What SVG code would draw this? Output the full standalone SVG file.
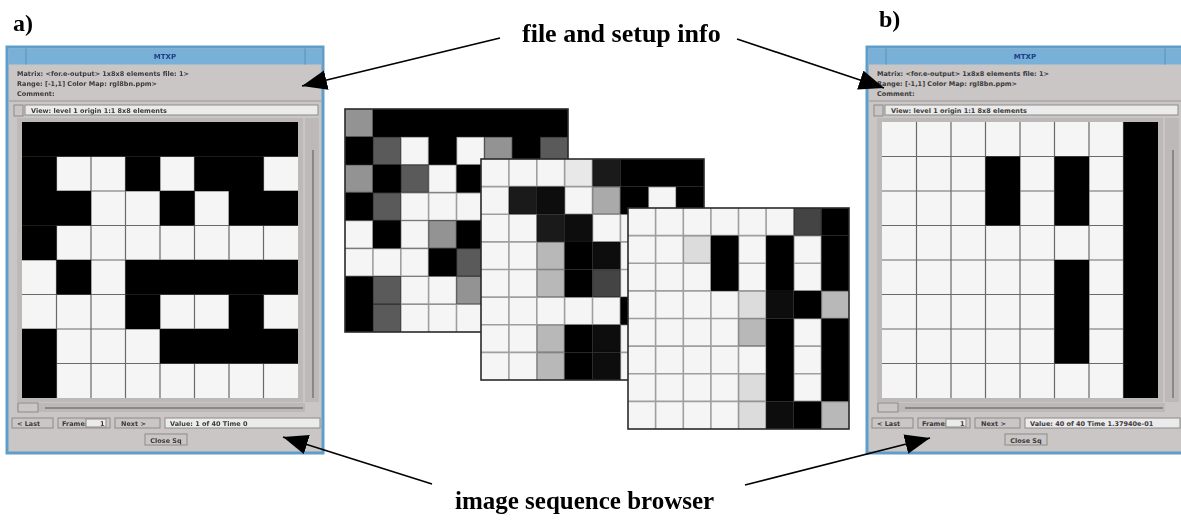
<svg xmlns="http://www.w3.org/2000/svg" width="1181" height="520" viewBox="0 0 1181 520">
<style>
.lbl{font-family:"Liberation Serif","Times New Roman",serif;font-weight:bold;fill:#000}
.frame{fill:#cbc6c6;stroke:#5f9dcb;stroke-width:3}
.title{fill:#78b0d8}
.tsep{stroke:#5a8fb8;stroke-width:1}
.wt{font-family:"DejaVu Sans",sans-serif;font-size:6.5px;font-weight:bold;fill:#3a3a3a}
.tt{font-family:"DejaVu Sans",sans-serif;font-size:7px;font-weight:bold;fill:#1d3f86}
.box{fill:#ecebeb;stroke:#8d8a8a;stroke-width:1}
.btn{fill:#cbc6c6;stroke:#8d8a8a;stroke-width:1}
.trough{fill:#bdb9b9}
.sl{stroke:#7a7777;stroke-width:1.5}
.wg{stroke:#6e6e6e;stroke-width:1.2;fill:none;mix-blend-mode:multiply}
.ig{stroke:#a6a6a6;stroke-width:1.6;fill:none;mix-blend-mode:multiply}
.bd{fill:none;stroke:#2a2a2a;stroke-width:1.6}
.W{fill:#f5f5f5}.B{fill:#000}.D1{fill:#1a1a1a}.D0{fill:#0d0d0d}.DG{fill:#5a5a5a}.G{fill:#939393}.LG{fill:#b8b8b8}.LA{fill:#aaaaaa}.VL{fill:#dcdcdc}.E{fill:#e8e8e8}.G4{fill:#444}
.conn{stroke:#000;stroke-width:1.6;fill:none}
</style>
<defs>
<marker id="ah" markerUnits="userSpaceOnUse" viewBox="0 0 25 20" refX="25" refY="10" markerWidth="25" markerHeight="20" orient="auto">
<path d="M0,0 L25,10 L0,20 Z" fill="#000"/>
</marker>
</defs>

<!-- Window a -->
<g id="window-a">
<rect class="frame" x="7" y="47" width="316" height="406"/>
<rect class="title" x="8.5" y="48.5" width="313" height="16"/>
<line class="tsep" x1="26" y1="48.5" x2="26" y2="64.5"/>
<line class="tsep" x1="305" y1="48.5" x2="305" y2="64.5"/>
<text class="tt" x="165" y="59" text-anchor="middle">MTXP</text>
<text class="wt" x="17" y="76">Matrix: &lt;for.e-output&gt; 1x8x8 elements file: 1&gt;</text>
<text class="wt" x="17" y="86">Range: [-1,1] Color Map: rgl8bn.ppm&gt;</text>
<text class="wt" x="17" y="96">Comment:</text>
<line x1="9" y1="101" x2="321" y2="101" stroke="#9a9696" stroke-width="1"/>
<rect class="btn" x="14" y="105" width="9" height="11"/>
<rect class="box" x="25" y="105" width="293" height="10"/>
<text class="wt" x="31" y="113">View: level 1 origin 1:1 8x8 elements</text>
<rect class="trough" x="17" y="118" width="286" height="284"/>
<rect class="trough" x="305" y="118" width="14" height="284"/>
<line class="sl" x1="313" y1="150" x2="313" y2="398"/>
<rect class="trough" x="17" y="403" width="288" height="9"/>
<line class="sl" x1="45" y1="408" x2="303" y2="408"/>
<rect class="btn" x="18" y="403" width="20" height="9"/>
<rect class="btn" x="12" y="418" width="41" height="10"/>
<text class="wt" x="17" y="426">&lt; Last</text>
<rect class="btn" x="58" y="418" width="52" height="10"/>
<text class="wt" x="62" y="426">Frame:</text>
<rect class="box" x="86" y="419" width="20" height="8"/>
<text class="wt" x="100" y="426">1</text>
<rect class="btn" x="115" y="418" width="45" height="10"/>
<text class="wt" x="121" y="426">Next &gt;</text>
<rect class="box" x="165" y="418" width="155" height="10"/>
<text class="wt" x="170" y="426">Value:  1 of 40 Time 0</text>
<rect class="btn" x="145" y="434" width="42" height="11"/>
<text class="wt" x="166" y="442.5" text-anchor="middle">Close Sq</text>
<rect class="W" x="22" y="122" width="276" height="276"/>
<g>
<rect class="B" x="22" y="122" width="276" height="34.5"/>
<rect class="B" x="22" y="156.5" width="34.5" height="34.5"/>
<rect class="B" x="125.5" y="156.5" width="34.5" height="34.5"/>
<rect class="B" x="194.5" y="156.5" width="69" height="34.5"/>
<rect class="B" x="22" y="191" width="69" height="34.5"/>
<rect class="B" x="160" y="191" width="34.5" height="34.5"/>
<rect class="B" x="229" y="191" width="69" height="34.5"/>
<rect class="B" x="22" y="225.5" width="34.5" height="34.5"/>
<rect class="B" x="56.5" y="260" width="34.5" height="34.5"/>
<rect class="B" x="125.5" y="260" width="172.5" height="34.5"/>
<rect class="B" x="125.5" y="294.5" width="34.5" height="34.5"/>
<rect class="B" x="229" y="294.5" width="34.5" height="34.5"/>
<rect class="B" x="22" y="329" width="34.5" height="69"/>
<rect class="B" x="160" y="329" width="138" height="34.5"/>
</g>
<path class="wg" d="M56.5,122V398M91,122V398M125.5,122V398M160,122V398M194.5,122V398M229,122V398M263.5,122V398M22,156.5H298M22,191H298M22,225.5H298M22,260H298M22,294.5H298M22,329H298M22,363.5H298"/>
</g>

<!-- Window b -->
<g id="window-b">
<rect class="frame" x="867" y="47" width="316" height="406"/>
<rect class="title" x="868.5" y="48.5" width="313" height="16"/>
<line class="tsep" x1="886" y1="48.5" x2="886" y2="64.5"/>
<line class="tsep" x1="1165" y1="48.5" x2="1165" y2="64.5"/>
<text class="tt" x="1025" y="59" text-anchor="middle">MTXP</text>
<text class="wt" x="877" y="76">Matrix: &lt;for.e-output&gt; 1x8x8 elements file: 1&gt;</text>
<text class="wt" x="877" y="86">Range: [-1,1] Color Map: rgl8bn.ppm&gt;</text>
<text class="wt" x="877" y="96">Comment:</text>
<line x1="869" y1="101" x2="1181" y2="101" stroke="#9a9696" stroke-width="1"/>
<rect class="btn" x="874" y="105" width="9" height="11"/>
<rect class="box" x="885" y="105" width="293" height="10"/>
<text class="wt" x="891" y="113">View: level 1 origin 1:1 8x8 elements</text>
<rect class="trough" x="877" y="118" width="286" height="284"/>
<rect class="trough" x="1165" y="118" width="14" height="284"/>
<line class="sl" x1="1173" y1="150" x2="1173" y2="398"/>
<rect class="trough" x="877" y="403" width="288" height="9"/>
<line class="sl" x1="905" y1="408" x2="1163" y2="408"/>
<rect class="btn" x="878" y="403" width="20" height="9"/>
<rect class="btn" x="872" y="418" width="41" height="10"/>
<text class="wt" x="877" y="426">&lt; Last</text>
<rect class="btn" x="918" y="418" width="52" height="10"/>
<text class="wt" x="922" y="426">Frame:</text>
<rect class="box" x="946" y="419" width="20" height="8"/>
<text class="wt" x="960" y="426">1</text>
<rect class="btn" x="975" y="418" width="45" height="10"/>
<text class="wt" x="981" y="426">Next &gt;</text>
<rect class="box" x="1025" y="418" width="155" height="10"/>
<text class="wt" x="1030" y="426">Value: 40 of 40 Time 1.37940e-01</text>
<rect class="btn" x="1005" y="434" width="42" height="11"/>
<text class="wt" x="1026" y="442.5" text-anchor="middle">Close Sq</text>
<rect class="W" x="882" y="122" width="276" height="276"/>
<g>
<rect class="B" x="1123.5" y="122" width="34.5" height="276"/>
<rect class="B" x="985.5" y="156.5" width="34.5" height="69"/>
<rect class="B" x="1054.5" y="156.5" width="34.5" height="69"/>
<rect class="B" x="1054.5" y="260" width="34.5" height="103.5"/>
</g>
<path class="wg" d="M916.5,122V398M951,122V398M985.5,122V398M1020,122V398M1054.5,122V398M1089,122V398M1123.5,122V398M882,156.5H1158M882,191H1158M882,225.5H1158M882,260H1158M882,294.5H1158M882,329H1158M882,363.5H1158"/>
</g>

<!-- Frame 1 (back) -->
<g id="frame-1" transform="translate(345,109)">
<rect class="B" x="0" y="0" width="223" height="223"/>
<rect class="G" x="0" y="0" width="27.9" height="27.9"/>
<rect class="DG" x="27.9" y="27.9" width="27.9" height="27.9"/>
<rect class="W" x="55.8" y="27.9" width="27.9" height="27.9"/>
<rect class="W" x="111.5" y="27.9" width="27.9" height="27.9"/>
<rect class="G" x="139.4" y="27.9" width="27.9" height="27.9"/>
<rect class="DG" x="195.1" y="27.9" width="27.9" height="27.9"/>
<rect class="G" x="0" y="55.8" width="27.9" height="27.9"/>
<rect class="DG" x="55.8" y="55.8" width="27.9" height="27.9"/>
<rect class="W" x="83.6" y="55.8" width="27.9" height="27.9"/>
<rect class="DG" x="27.9" y="83.6" width="27.9" height="27.9"/>
<rect class="W" x="55.8" y="83.6" width="83.6" height="27.9"/>
<rect class="W" x="0" y="111.5" width="27.9" height="27.9"/>
<rect class="W" x="55.8" y="111.5" width="27.9" height="27.9"/>
<rect class="G" x="83.6" y="111.5" width="27.9" height="27.9"/>
<rect class="W" x="0" y="139.4" width="83.6" height="27.9"/>
<rect class="DG" x="111.5" y="139.4" width="27.9" height="27.9"/>
<rect class="DG" x="27.9" y="167.3" width="27.9" height="27.9"/>
<rect class="W" x="55.8" y="167.3" width="55.8" height="27.9"/>
<rect class="G" x="111.5" y="167.3" width="27.9" height="27.9"/>
<rect class="DG" x="27.9" y="195.1" width="27.9" height="27.9"/>
<rect class="W" x="55.8" y="195.1" width="83.6" height="27.9"/>
<path class="ig" d="M27.9,0V223M55.8,0V223M83.6,0V223M111.5,0V223M139.4,0V223M167.3,0V223M195.1,0V223M0,27.9H223M0,55.8H223M0,83.6H223M0,111.5H223M0,139.4H223M0,167.3H223M0,195.1H223"/>
<rect class="bd" x="0" y="0" width="223" height="223"/>
</g>

<!-- Frame 2 (middle) -->
<g id="frame-2" transform="translate(481,159)">
<rect class="W" x="0" y="0" width="223" height="221"/>
<rect class="E" x="83.6" y="0" width="27.9" height="27.6"/>
<rect class="D1" x="111.5" y="0" width="27.9" height="27.6"/>
<rect class="B" x="139.4" y="0" width="83.6" height="27.6"/>
<rect class="D1" x="27.9" y="27.6" width="27.9" height="27.6"/>
<rect class="D0" x="55.8" y="27.6" width="27.9" height="27.6"/>
<rect class="LA" x="111.5" y="27.6" width="27.9" height="27.6"/>
<rect class="B" x="139.4" y="27.6" width="27.9" height="27.6"/>
<rect class="B" x="195.1" y="27.6" width="27.9" height="27.6"/>
<rect class="D1" x="55.8" y="55.3" width="27.9" height="27.6"/>
<rect class="D0" x="83.6" y="55.3" width="27.9" height="27.6"/>
<rect class="LG" x="55.8" y="82.9" width="27.9" height="27.6"/>
<rect class="B" x="83.6" y="82.9" width="27.9" height="27.6"/>
<rect class="D0" x="111.5" y="82.9" width="27.9" height="27.6"/>
<rect class="LG" x="55.8" y="110.5" width="27.9" height="27.6"/>
<rect class="B" x="83.6" y="110.5" width="27.9" height="27.6"/>
<rect class="G4" x="111.5" y="110.5" width="27.9" height="27.6"/>
<rect class="B" x="139.4" y="138.1" width="27.9" height="27.6"/>
<rect class="LG" x="55.8" y="165.8" width="27.9" height="27.6"/>
<rect class="B" x="83.6" y="165.8" width="27.9" height="27.6"/>
<rect class="D0" x="111.5" y="165.8" width="27.9" height="27.6"/>
<rect class="LG" x="55.8" y="193.4" width="27.9" height="27.6"/>
<rect class="B" x="83.6" y="193.4" width="27.9" height="27.6"/>
<rect class="D0" x="111.5" y="193.4" width="27.9" height="27.6"/>
<path class="ig" d="M27.9,0V221M55.8,0V221M83.6,0V221M111.5,0V221M139.4,0V221M167.3,0V221M195.1,0V221M0,27.6H223M0,55.3H223M0,82.9H223M0,110.5H223M0,138.1H223M0,165.8H223M0,193.4H223"/>
<rect class="bd" x="0" y="0" width="223" height="221"/>
</g>

<!-- Frame 3 (front) -->
<g id="frame-3" transform="translate(628,208)">
<rect class="W" x="0" y="0" width="221" height="221"/>
<rect class="G4" x="165.8" y="0" width="27.6" height="27.6"/>
<rect class="B" x="193.4" y="0" width="27.6" height="27.6"/>
<rect class="VL" x="55.3" y="27.6" width="27.6" height="27.6"/>
<rect class="B" x="82.9" y="27.6" width="27.6" height="55.3"/>
<rect class="B" x="138.1" y="27.6" width="27.6" height="55.3"/>
<rect class="B" x="193.4" y="27.6" width="27.6" height="55.3"/>
<rect class="VL" x="110.5" y="82.9" width="27.6" height="27.6"/>
<rect class="D0" x="138.1" y="82.9" width="27.6" height="27.6"/>
<rect class="B" x="165.8" y="82.9" width="27.6" height="27.6"/>
<rect class="LG" x="193.4" y="82.9" width="27.6" height="27.6"/>
<rect class="LG" x="110.5" y="110.5" width="27.6" height="27.6"/>
<rect class="VL" x="110.5" y="165.8" width="27.6" height="27.6"/>
<rect class="B" x="138.1" y="110.5" width="27.6" height="82.9"/>
<rect class="B" x="193.4" y="110.5" width="27.6" height="82.9"/>
<rect class="VL" x="110.5" y="193.4" width="27.6" height="27.6"/>
<rect class="D0" x="138.1" y="193.4" width="27.6" height="27.6"/>
<rect class="B" x="165.8" y="193.4" width="27.6" height="27.6"/>
<rect class="LG" x="193.4" y="193.4" width="27.6" height="27.6"/>
<path class="ig" d="M27.6,0V221M55.3,0V221M82.9,0V221M110.5,0V221M138.1,0V221M165.8,0V221M193.4,0V221M0,27.6H221M0,55.3H221M0,82.9H221M0,110.5H221M0,138.1H221M0,165.8H221M0,193.4H221"/>
<rect class="bd" x="0" y="0" width="221" height="221"/>
</g>

<!-- Labels -->
<g id="label-a"><text class="lbl" x="13" y="31" font-size="24">a)</text></g>
<g id="label-b"><text class="lbl" x="879" y="27" font-size="24">b)</text></g>
<g id="label-file"><text class="lbl" x="522" y="42" font-size="26">file and setup info</text></g>
<g id="label-browser"><text class="lbl" x="455" y="509" font-size="25">image sequence browser</text></g>

<!-- Connectors -->
<g id="connectors">
<line class="conn" x1="500" y1="38" x2="302" y2="86" marker-end="url(#ah)"/>
<line class="conn" x1="737" y1="39" x2="884" y2="88" marker-end="url(#ah)"/>
<line class="conn" x1="432" y1="484" x2="283" y2="437" marker-end="url(#ah)"/>
<line class="conn" x1="745" y1="485" x2="930" y2="438" marker-end="url(#ah)"/>
</g>
</svg>
